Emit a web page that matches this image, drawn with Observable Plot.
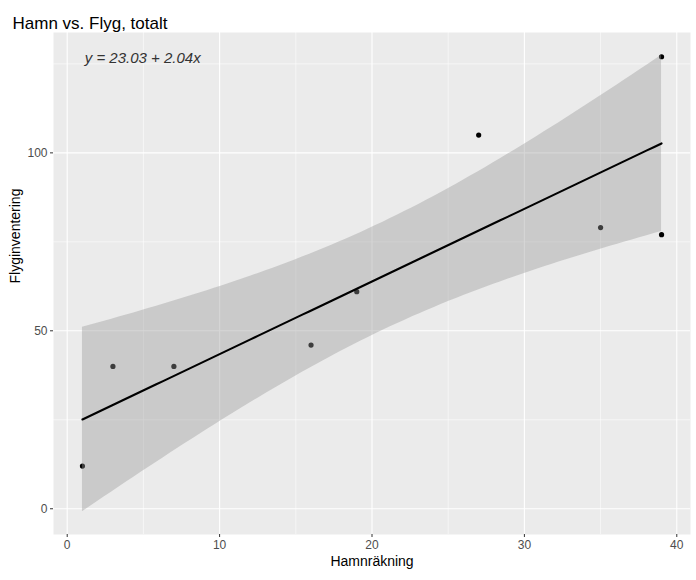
<!DOCTYPE html>
<html>
<head>
<meta charset="utf-8">
<script src="https://cdn.jsdelivr.net/npm/d3@7"></script>
<script src="https://cdn.jsdelivr.net/npm/@observablehq/plot@0.6"></script>
<style>
  body { margin: 0; background: #fff; }
  svg { font-family: "Liberation Sans", Arial, sans-serif; }
</style>
</head>
<body>
<div id="chart"></div>
<script>
// Data
const hamn = [1, 3, 7, 16, 19, 27, 35, 39, 39];
const flyg = [12, 40, 40, 46, 61, 105, 79, 77, 127];
const xTicks = [0, 10, 20, 30, 40];
const yTicks = [0, 50, 100];
const xMinor = [5, 15, 25, 35];
const yMinor = [25, 75, 125];
const title = "Hamn vs. Flyg, totalt";
const xLabel = "Hamnräkning";
const yLabel = "Flyginventering";

const points = hamn.map((x, i) => ({x, y: flyg[i]}));

// Linear model with 95% confidence band (like geom_smooth(method = "lm"))
const n = points.length;
const mx = d3.mean(hamn), my = d3.mean(flyg);
const sxx = d3.sum(hamn, x => (x - mx) ** 2);
const sxy = d3.sum(points, p => (p.x - mx) * (p.y - my));
const b = sxy / sxx, a = my - b * mx;
const rss = d3.sum(points, p => (p.y - a - b * p.x) ** 2);
const s = Math.sqrt(rss / (n - 2));
const tq = 2.364624; // t(0.975, df = 7)
const [x0, x1] = d3.extent(hamn);
const fit = d3.range(80).map(i => {
  const x = x0 + (x1 - x0) * i / 79;
  const yh = a + b * x;
  const se = s * Math.sqrt(1 / n + (x - mx) ** 2 / sxx);
  return {x, y: yh, lo: yh - tq * se, hi: yh + tq * se};
});
const eqText = `y = ${a.toFixed(2)} + ${b.toFixed(2)}x`;

// ggplot-like expansion
const xr = [x0, x1];
const yAll = flyg.concat(fit.map(d => d.lo), fit.map(d => d.hi));
const yr = d3.extent(yAll);
const ex = (r) => { const d = (r[1] - r[0]) * 0.05; return [r[0] - d, r[1] + d]; };

const W = 696, H = 580;
const mt = 32, mb = 46, ml = 53, mr = 6;

const chart = Plot.plot({
  width: W, height: H,
  marginTop: mt, marginBottom: mb, marginLeft: ml, marginRight: mr,
  style: {background: "#ffffff", fontFamily: "Liberation Sans, Arial, sans-serif"},
  x: {domain: ex(xr), ticks: xTicks, tickSize: 0, label: null, axis: null},
  y: {domain: ex(yr), ticks: yTicks, label: null, axis: null},
  marks: [
    Plot.frame({fill: "#EBEBEB", stroke: null}),
    Plot.gridX(xMinor, {stroke: "#ffffff", strokeOpacity: 1, strokeWidth: 0.55}),
    Plot.gridY(yMinor, {stroke: "#ffffff", strokeOpacity: 1, strokeWidth: 0.55}),
    Plot.gridX(xTicks, {stroke: "#ffffff", strokeOpacity: 1, strokeWidth: 1.1}),
    Plot.gridY(yTicks, {stroke: "#ffffff", strokeOpacity: 1, strokeWidth: 1.1}),
    Plot.dot(points, {x: "x", y: "y", r: 2.6, fill: "#000000", stroke: null}),
    Plot.areaY(fit, {x: "x", y1: "lo", y2: "hi", fill: "#999999", fillOpacity: 0.4}),
    Plot.line(fit, {x: "x", y: "y", stroke: "#000000", strokeWidth: 2.1}),
    Plot.text([eqText], {x: 1.15, y: 126.5, text: d => d, textAnchor: "start", fontStyle: "italic", fontSize: 15, fill: "#333333"}),
    Plot.axisX(xTicks, {tickSize: 3, tickPadding: 3, stroke: "#333333", fill: "#4D4D4D", fontSize: 12, label: null}),
    Plot.axisY(yTicks, {tickSize: 3, tickPadding: 3, stroke: "#333333", fill: "#4D4D4D", fontSize: 12, label: null}),
    Plot.text([xLabel], {frameAnchor: "bottom", dy: 31, text: d => d, fontSize: 14, fill: "#000000"}),
    Plot.text([yLabel], {frameAnchor: "left", dx: -38, rotate: -90, text: d => d, fontSize: 14, fill: "#000000"}),
    Plot.text([title], {frameAnchor: "top-left", dx: -41, dy: -16, text: d => d, textAnchor: "start", fontSize: 17, fill: "#000000"})
  ]
});
document.getElementById("chart").appendChild(chart);
</script>
</body>
</html>
